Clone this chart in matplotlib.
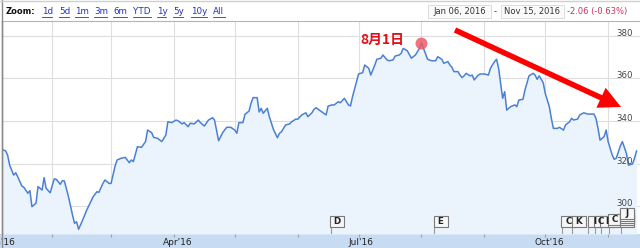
import matplotlib
matplotlib.use("Agg")
import matplotlib.pyplot as plt
import matplotlib.dates as mdates
import matplotlib.transforms as mtransforms
from matplotlib.patches import Rectangle, FancyArrow
from matplotlib.lines import Line2D
import pandas as pd

# ---------------- data ----------------
dates = [
    "2016-01-06", "2016-01-09", "2016-01-10", "2016-01-11", "2016-01-13", "2016-01-14", "2016-01-15",
    "2016-01-17", "2016-01-18", "2016-01-20", "2016-01-21", "2016-01-22", "2016-01-24", "2016-01-25",
    "2016-01-27", "2016-01-28", "2016-01-29", "2016-01-31", "2016-02-02", "2016-02-03", "2016-02-05",
    "2016-02-06", "2016-02-07", "2016-02-09", "2016-02-11", "2016-02-12", "2016-02-13", "2016-02-14",
    "2016-02-16", "2016-02-18", "2016-02-20", "2016-02-21", "2016-02-23", "2016-02-24", "2016-02-26",
    "2016-02-27", "2016-02-29", "2016-03-01", "2016-03-03", "2016-03-04", "2016-03-06", "2016-03-08",
    "2016-03-10", "2016-03-11", "2016-03-12", "2016-03-14", "2016-03-16", "2016-03-18", "2016-03-19",
    "2016-03-21", "2016-03-22", "2016-03-24", "2016-03-26", "2016-03-28", "2016-03-29", "2016-03-31",
    "2016-04-02", "2016-04-03", "2016-04-05", "2016-04-06", "2016-04-08", "2016-04-09", "2016-04-11",
    "2016-04-13", "2016-04-14", "2016-04-16", "2016-04-18", "2016-04-20", "2016-04-21", "2016-04-23",
    "2016-04-25", "2016-04-27", "2016-04-29", "2016-05-01", "2016-05-02", "2016-05-03", "2016-05-05",
    "2016-05-06", "2016-05-08", "2016-05-09", "2016-05-10", "2016-05-12", "2016-05-13", "2016-05-14",
    "2016-05-15", "2016-05-17", "2016-05-18", "2016-05-20", "2016-05-22", "2016-05-23", "2016-05-24",
    "2016-05-26", "2016-05-28", "2016-05-29", "2016-05-31", "2016-06-01", "2016-06-03", "2016-06-05",
    "2016-06-06", "2016-06-08", "2016-06-09", "2016-06-10", "2016-06-12", "2016-06-15", "2016-06-16",
    "2016-06-18", "2016-06-19", "2016-06-21", "2016-06-22", "2016-06-24", "2016-06-25", "2016-06-26",
    "2016-06-27", "2016-06-28", "2016-06-30", "2016-07-01", "2016-07-03", "2016-07-04", "2016-07-06",
    "2016-07-07", "2016-07-09", "2016-07-10", "2016-07-12", "2016-07-13", "2016-07-15", "2016-07-16",
    "2016-07-18", "2016-07-19", "2016-07-21", "2016-07-22", "2016-07-23", "2016-07-25", "2016-07-26",
    "2016-07-27", "2016-07-29", "2016-07-31", "2016-08-01", "2016-08-02", "2016-08-03", "2016-08-04",
    "2016-08-06", "2016-08-08", "2016-08-09", "2016-08-11", "2016-08-12", "2016-08-14", "2016-08-15",
    "2016-08-16", "2016-08-17", "2016-08-19", "2016-08-20", "2016-08-21", "2016-08-22", "2016-08-23",
    "2016-08-25", "2016-08-26", "2016-08-27", "2016-08-29", "2016-08-30", "2016-09-01", "2016-09-03",
    "2016-09-04", "2016-09-06", "2016-09-07", "2016-09-08", "2016-09-09", "2016-09-10", "2016-09-11",
    "2016-09-12", "2016-09-14", "2016-09-16", "2016-09-17", "2016-09-18", "2016-09-20", "2016-09-21",
    "2016-09-23", "2016-09-25", "2016-09-26", "2016-09-27", "2016-09-28", "2016-09-30", "2016-10-01",
    "2016-10-03", "2016-10-04", "2016-10-05", "2016-10-07", "2016-10-08", "2016-10-10", "2016-10-11",
    "2016-10-13", "2016-10-14", "2016-10-15", "2016-10-17", "2016-10-18", "2016-10-20", "2016-10-22",
    "2016-10-23", "2016-10-25", "2016-10-26", "2016-10-27", "2016-10-28", "2016-10-30", "2016-10-31",
    "2016-11-01", "2016-11-03", "2016-11-04", "2016-11-05", "2016-11-07", "2016-11-08", "2016-11-10",
    "2016-11-11", "2016-11-13", "2016-11-14", "2016-11-15",
]
prices = [
    327.0, 326.1, 324.1, 319.4, 314.7, 315.8, 313.9,
    309.6, 309.0, 306.2, 307.4, 299.9, 301.5, 309.3,
    307.7, 313.5, 308.5, 306.4, 312.9, 312.7, 310.4,
    312.1, 311.9, 304.6, 296.0, 292.1, 292.8, 289.3,
    293.6, 298.3, 302.2, 304.3, 306.9, 306.6, 310.8,
    312.4, 310.8, 310.8, 319.0, 321.8, 322.6, 323.0,
    320.5, 321.8, 321.0, 328.0, 327.7, 330.4, 335.8,
    334.6, 332.4, 331.9, 330.4, 333.5, 339.7, 339.3,
    340.5, 340.2, 338.7, 339.3, 337.4, 339.0, 338.7,
    340.5, 339.3, 337.7, 340.5, 341.6, 340.5, 330.8,
    334.6, 337.1, 337.1, 335.8, 334.3, 339.3, 339.3,
    343.2, 344.7, 348.4, 351.0, 351.0, 344.3, 346.0,
    343.7, 346.0, 342.1, 336.2, 332.2, 334.3, 335.0,
    338.2, 338.7, 339.7, 340.9, 340.9, 342.9, 343.9,
    342.1, 343.9, 345.5, 346.3, 344.9, 342.9, 347.1,
    347.6, 347.6, 349.1, 348.6, 350.7, 349.1, 347.6,
    347.1, 351.4, 358.5, 362.1, 362.7, 366.3, 364.8,
    361.6, 366.3, 369.0, 369.5, 371.0, 368.7, 368.3,
    368.7, 370.5, 371.0, 371.8, 374.1, 373.0, 371.3,
    369.5, 371.0, 374.1, 376.7, 374.1, 371.5, 369.0,
    368.3, 368.3, 370.2, 369.0, 367.1, 367.9, 366.3,
    365.2, 363.2, 363.2, 361.6, 360.4, 361.2, 362.4,
    361.2, 361.6, 359.3, 361.6, 362.1, 362.1, 361.6,
    364.8, 367.9, 369.0, 364.8, 357.7, 350.7, 353.8,
    345.2, 346.8, 347.6, 346.8, 349.9, 350.2, 354.6,
    361.2, 362.4, 361.6, 359.6, 361.2, 358.0, 353.0,
    346.8, 341.3, 336.6, 336.6, 337.1, 335.8, 338.2,
    339.7, 341.3, 340.5, 341.0, 342.9, 343.9, 343.3,
    343.3, 343.3, 341.3, 336.6, 331.1, 332.7, 335.8,
    330.4, 324.1, 322.1, 322.6, 328.3, 330.4, 324.9,
    319.4, 319.9, 322.6, 326.0,
]

month_starts = ["2016-02-01", "2016-03-01", "2016-04-01", "2016-05-01", "2016-06-01",
                "2016-07-01", "2016-08-01", "2016-09-01", "2016-10-01", "2016-11-01"]
x_label_dates = ["2016-01-07", "2016-04-03", "2016-07-02", "2016-10-03"]
x_labels = ["Jan'16", "Apr'16", "Jul'16", "Oct'16"]
y_ticks = [300, 320, 340, 360, 380]

peak_date = "2016-08-01"
peak_value = 376.7
peak_label = "8月1日"

flag_letters = ["D", "E", "C", "K", "I", "C", "I", "C", "J"]
flag_dates = ["2016-06-17", "2016-08-07", "2016-10-09", "2016-10-14", "2016-10-22",
              "2016-10-25", "2016-10-28", "2016-11-01", "2016-11-07"]
flag_stack = [0, 0, 0, 0, 0, 0, 0, 1, 4]

zoom_label = "Zoom:"
zoom_links = ["1d", "5d", "1m", "3m", "6m", "YTD", "1y", "5y", "10y", "All"]
range_start = "Jan 06, 2016"
range_end = "Nov 15, 2016"
change_text = "-2.06 (-0.63%)"

# ---------------- figure ----------------
W, H = 640, 248
fig = plt.figure(figsize=(W / 100, H / 100), dpi=100)
fig.patch.set_facecolor("white")

def fx(px):
    return px / W

def fy(py):
    return 1 - py / H

plot_left, plot_right, plot_top, plot_bottom = 1.5, 640, 21, 234
ax = fig.add_axes([fx(plot_left), fy(plot_bottom), fx(plot_right - plot_left),
                   (plot_bottom - plot_top) / H])

x = mdates.date2num(pd.to_datetime(dates))
base = mdates.date2num(pd.Timestamp("2016-01-06"))
ymin, ymax = 287.08, 386.94

ax.fill_between(x, prices, ymin, color="#ebf3fc", lw=0, zorder=1)
ax.plot(x, prices, color="#4a80d4", lw=1.1, zorder=3, solid_joinstyle="round")

ax.set_xlim(base + 2.84, base + 315.7)
ax.set_ylim(ymin, ymax)

ax.set_xticks(mdates.date2num(pd.to_datetime(month_starts)))
ax.set_xticklabels([])
ax.set_xticks(mdates.date2num(pd.to_datetime(x_label_dates)), minor=True)
ax.set_xticklabels(x_labels, minor=True, fontsize=6.5, color="#222222")
ax.tick_params(axis="x", which="major", direction="inout", length=5, width=0.8,
               color="#a0a0a0", labelbottom=False)
ax.tick_params(axis="x", which="minor", length=0, pad=2.6)
ax.set_yticks(y_ticks)
ax.tick_params(axis="y", length=0, labelleft=False)
ax.grid(True, which="major", color="#dedede", lw=0.8, zorder=0)
ax.set_axisbelow(True)

for side in ["right", "bottom"]:
    ax.spines[side].set_visible(False)
ax.spines["top"].set_color("#b5b5b5")
ax.spines["top"].set_linewidth(0.8)
ax.spines["left"].set_color("#8a8a8a")
ax.spines["left"].set_linewidth(1.0)

# y labels inside the plot on the right
ytrans = mtransforms.blended_transform_factory(ax.transAxes, ax.transData)
for v in y_ticks:
    ax.text(0.9895, v, str(v), transform=ytrans, ha="right", va="baseline",
            fontsize=6.2, color="#444444", zorder=6)

# peak marker and label
pk = mdates.date2num(pd.Timestamp(peak_date))
ax.plot([pk], [peak_value], "o", ms=8.6, color="#f05a6a", alpha=0.85, mec="none", zorder=5)
ax.annotate(peak_label, xy=(pk, peak_value), xytext=(-39, 3), textcoords="offset pixels",
            ha="center", va="center", fontsize=10, fontweight="bold", color="#e0101a",
            family=["Noto Sans CJK JP", "DejaVu Sans"], zorder=6)

# event flags
ftrans = mtransforms.blended_transform_factory(ax.transData, ax.transAxes)
box_w_days = 14 / 2.041
box_h = 11.5 / 213
for letter, d, s in zip(flag_letters, flag_dates, flag_stack):
    xd = mdates.date2num(pd.Timestamp(d))
    ax.add_line(Line2D([xd + 0.3, xd + 0.3], [0, 7 / 213], transform=ftrans, color="#9a9a9a",
                       lw=0.8, zorder=6))
    # stacked boxes (several events on nearby days): only the top one shows its letter
    for k in range(s + 1):
        y0 = (7 + 2.0 * k) / 213
        ax.add_patch(Rectangle((xd, y0), box_w_days, box_h, transform=ftrans,
                               facecolor="#f6f6f6", edgecolor="#7a7a7a", lw=0.8, zorder=7))
    ax.text(xd + box_w_days / 2, y0 + box_h / 2, letter, transform=ftrans, ha="center",
            va="center", fontsize=6.3, fontweight="bold", color="#222222", zorder=8)

# bottom band
fig.add_artist(Rectangle((0, 0), 1, (H - plot_bottom) / H, transform=fig.transFigure,
                         facecolor="#c7dbf2", edgecolor="none", zorder=-1))

# borders of the widget
fig.add_artist(Line2D([fx(1.5), fx(1.5)], [0, 1], transform=fig.transFigure,
                      color="#8a8a8a", lw=1.0))
fig.add_artist(Line2D([0, 1], [fy(0.5), fy(0.5)], transform=fig.transFigure,
                      color="#d0d0d0", lw=1.0))

# header
fig.text(fx(6), fy(11.5), zoom_label, fontsize=6.0, fontweight="bold", color="#111111",
         ha="left", va="center")
link_x = [42, 59, 75, 94, 113, 133, 157, 173, 191, 213]
link_end = [52, 69, 88, 107, 127, 151, 166, 183, 207, 225]
for lbl, x0, x1 in zip(zoom_links, link_x, link_end):
    fig.text(fx(x0), fy(11.5), lbl, fontsize=6.3, color="#2233bb", ha="left", va="center")
    fig.add_artist(Line2D([fx(x0), fx(x1)], [fy(16.5), fy(16.5)], transform=fig.transFigure,
                          color="#2233bb", lw=0.6))

for (bx0, bx1, txt) in [(428, 491, range_start), (501, 564, range_end)]:
    fig.add_artist(Rectangle((fx(bx0), fy(18)), fx(bx1 - bx0), 13 / H, transform=fig.transFigure,
                             facecolor="#fafafa", edgecolor="#d8d8d8", lw=0.6))
    fig.text(fx((bx0 + bx1) / 2), fy(11.5), txt, fontsize=6.0, color="#333333",
             ha="center", va="center")
fig.text(fx(495.5), fy(11.5), "-", fontsize=6.0, color="#333333", ha="center", va="center")
fig.text(fx(567), fy(11.5), change_text, fontsize=6.0, color="#c8325a", ha="left", va="center")

# red trend arrow
arrow = FancyArrow(455, H - 30, 166, -77, width=5.5, head_width=22, head_length=22,
                   length_includes_head=True, color="#ff0000", lw=0,
                   transform=mtransforms.IdentityTransform())
fig.add_artist(arrow)

fig.savefig("out.png", dpi=100)
